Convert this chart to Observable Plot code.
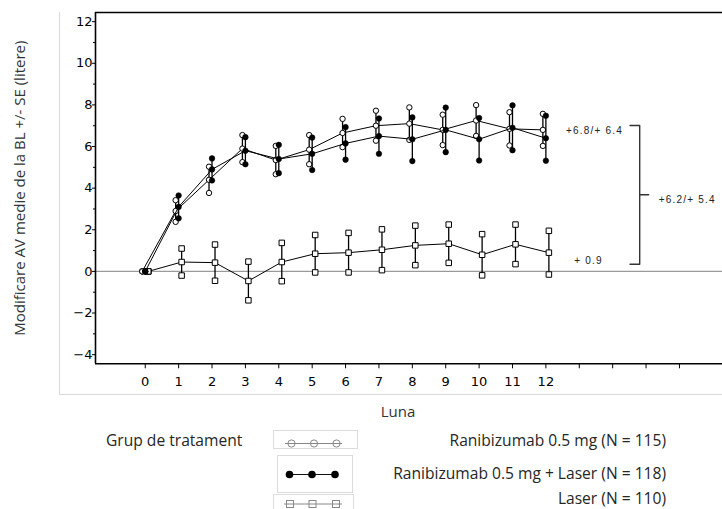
<!DOCTYPE html>
<html><head><meta charset="utf-8">
<script src="https://cdn.jsdelivr.net/npm/d3@7"></script>
<script src="https://cdn.jsdelivr.net/npm/@observablehq/plot@0.6"></script>
<style>
body{margin:0;background:#fff;overflow:hidden}
#wrap{position:relative;width:722px;height:509px;overflow:hidden;font-family:"Open Sans",sans-serif;color:#262626;background:#fff}
#chart{position:absolute;left:0;top:0}
.t{position:absolute;white-space:nowrap;font-size:15.6px;line-height:1;transform:translateY(-50%)}
.box{position:absolute;border:1px solid #dcdcdc;box-sizing:border-box}
.gl{position:absolute;background:#d9d9d9}
</style></head><body>
<div id="wrap">
  <div class="gl" style="left:59px;top:12px;width:1px;height:382px"></div>
  <div class="gl" style="left:59px;top:394px;width:663px;height:1px"></div>
  <div id="chart"></div>
  <div class="box" style="left:273px;top:430px;width:85px;height:19px"></div>
  <div class="box" style="left:277px;top:455px;width:76px;height:38px"></div>
  <div class="box" style="left:273px;top:494px;width:81px;height:20px"></div>
  <svg id="lg" width="722" height="509" style="position:absolute;left:0;top:0"></svg>
  <div class="t" id="grp" style="left:106px;top:441px"></div>
  <div class="t lt" style="right:56px;top:441px"></div>
  <div class="t lt" style="right:56px;top:474px"></div>
  <div class="t lt" style="right:56px;top:499px"></div>
</div>
<script>
// ---- data ----
const months = [0,1,2,3,4,5,6,7,8,9,10,11,12];
const ranibMean = [0, 2.9, 4.4, 5.9, 5.35, 5.85, 6.65, 7.0, 7.1, 6.8, 7.25, 6.85, 6.8];
const ranibSE   = [0, 0.52, 0.63, 0.65, 0.68, 0.7, 0.68, 0.72, 0.78, 0.73, 0.74, 0.8, 0.77];
const comboMean = [0, 3.1, 4.9, 5.8, 5.4, 5.65, 6.15, 6.5, 6.35, 6.8, 6.35, 6.9, 6.4];
const comboSE   = [0, 0.55, 0.53, 0.65, 0.68, 0.78, 0.78, 0.85, 1.05, 1.07, 1.02, 1.08, 1.08];
const laserMean = [0, 0.45, 0.42, -0.46, 0.45, 0.85, 0.9, 1.04, 1.25, 1.33, 0.8, 1.3, 0.9];
const laserSE   = [0, 0.65, 0.87, 0.93, 0.92, 0.9, 0.95, 0.98, 0.95, 0.92, 0.99, 0.95, 1.05];
const seriesNames = ["Ranibizumab 0.5 mg (N = 115)", "Ranibizumab 0.5 mg + Laser (N = 118)", "Laser (N = 110)"];
const xTickValues = [0,1,2,3,4,5,6,7,8,9,10,11,12,13,14,15,16];
const xTickLabels = ["0","1","2","3","4","5","6","7","8","9","10","11","12","","","",""];
const yTickValues = [-4,-2,0,2,4,6,8,10,12];
const yMinorTicks = [-3,-1,1,3,5,7,9,11];
const annotText = ["+6.8/+ 6.4", "+6.2/+ 5.4", "+ 0.9"];
const annotX = [12.6, 15.38, 12.85];
const annotY = [6.74, 3.44, 0.53];
const bracketX = [14.52, 14.81, 14.81, 14.52];
const bracketY = [7.01, 7.01, 0.34, 0.34];
const bracketTickX = [14.81, 15.08];
const bracketTickY = [3.68, 3.68];
const xTitle = "Luna";
const yTitle = "Modificare AV medie de la BL +/- SE (litere)";
const legendTitle = "Grup de tratament";

const xDomain = [-1.49, 17.29];
const yDomain = [-4.44, 12.44];

function rowsOf(mean, se) {
  return months.map((m, i) => ({month: m, mean: mean[i], lo: mean[i] - se[i], hi: mean[i] + se[i]}));
}
function pointsOf(rows) {
  return rows.flatMap(d => [{month: d.month, v: d.mean}, {month: d.month, v: d.lo}, {month: d.month, v: d.hi}]);
}
const ranib = rowsOf(ranibMean, ranibSE);
const combo = rowsOf(comboMean, comboSE);
const laser = rowsOf(laserMean, laserSE);

function seriesMarks(rows, dx, dotOpts) {
  return [
    Plot.line(rows, {x: "month", y: "mean", stroke: "#000", strokeWidth: 1, dx}),
    Plot.ruleX(rows, {x: "month", y1: "lo", y2: "hi", stroke: "#000", strokeWidth: 1.3, dx}),
    Plot.dot(pointsOf(rows), {x: "month", y: "v", dx, ...dotOpts})
  ];
}

const chart = Plot.plot({
  width: 722, height: 420,
  marginLeft: 95, marginRight: 0, marginTop: 12, marginBottom: 56.7,
  x: {domain: xDomain},
  y: {domain: yDomain},
  style: {fontFamily: "DejaVu Sans", fontSize: "13px", color: "#000", background: "transparent", overflow: "visible"},
  marks: [
    Plot.ruleY([0], {stroke: "#9a9a9a", strokeWidth: 1.2}),
    ...seriesMarks(laser, 3, {symbol: "square", r: 3.1, fill: "#fff", stroke: "#000", strokeWidth: 1}),
    ...seriesMarks(ranib, -3, {symbol: "circle", r: 2.7, fill: "#fff", stroke: "#000", strokeWidth: 1}),
    ...seriesMarks(combo, 0, {symbol: "circle", r: 2.8, fill: "#000", stroke: "#000", strokeWidth: 0.5}),
    Plot.ruleX([xDomain[0]], {stroke: "#000", strokeWidth: 1.6}),
    Plot.ruleY([yDomain[1]], {stroke: "#000", strokeWidth: 1.6}),
    Plot.ruleY([yDomain[0]], {stroke: "#000", strokeWidth: 1.6}),
    Plot.axisX({ticks: xTickValues, tickSize: 5, tickPadding: 8, tickFormat: d => xTickLabels[xTickValues.indexOf(d)], label: null, fill: "#000"}),
    Plot.axisY({ticks: yTickValues, tickSize: 3, tickPadding: 0, label: null, fill: "#000"}),
    Plot.axisY({ticks: yMinorTicks, tickSize: 2, tickFormat: () => "", label: null}),
    Plot.text(annotText, {x: (d, i) => annotX[i], y: (d, i) => annotY[i], text: d => d, textAnchor: "start", fontFamily: "Liberation Sans", fontSize: 10, fill: "#222"}),
    Plot.line(bracketX.map((x, i) => ({x, y: bracketY[i]})), {x: "x", y: "y", stroke: "#333", strokeWidth: 1.4}),
    Plot.line(bracketTickX.map((x, i) => ({x, y: bracketTickY[i]})), {x: "x", y: "y", stroke: "#333", strokeWidth: 1.4}),
    Plot.text([yTitle], {frameAnchor: "left", dx: -75, rotate: -90, textAnchor: "middle", lineAnchor: "middle", fontFamily: "Open Sans", fontSize: 15, fill: "#333"}),
    Plot.text([xTitle], {frameAnchor: "bottom", dx: -11, dy: 48.4, textAnchor: "middle", lineAnchor: "middle", fontFamily: "Open Sans", fontSize: 15, fill: "#333"})
  ]
});
chart.querySelectorAll("text").forEach(t => {
  if (t.textContent.startsWith("+")) t.setAttribute("letter-spacing", "1.2");
});
document.getElementById("chart").appendChild(chart);

// ---- legend ----
document.getElementById("grp").textContent = legendTitle;
document.querySelectorAll(".lt").forEach((el, i) => el.textContent = seriesNames[i]);
const lg = d3.select("#lg");
// open circles
lg.append("line").attr("x1", 285).attr("x2", 342).attr("y1", 443.5).attr("y2", 443.5).attr("stroke", "#888").attr("stroke-width", 1);
[291.5, 314, 336.5].forEach(x => lg.append("circle").attr("cx", x).attr("cy", 443.5).attr("r", 3.6).attr("fill", "none").attr("stroke", "#888").attr("stroke-width", 1));
// filled circles
lg.append("line").attr("x1", 289).attr("x2", 335).attr("y1", 474.5).attr("y2", 474.5).attr("stroke", "#111").attr("stroke-width", 1.2);
[289.5, 312, 335].forEach(x => lg.append("circle").attr("cx", x).attr("cy", 474.5).attr("r", 3.8).attr("fill", "#000"));
// squares
lg.append("line").attr("x1", 284).attr("x2", 342).attr("y1", 504).attr("y2", 504).attr("stroke", "#888").attr("stroke-width", 1);
[290, 312.5, 336].forEach(x => lg.append("rect").attr("x", x - 3.5).attr("y", 500.5).attr("width", 7).attr("height", 7).attr("fill", "none").attr("stroke", "#888").attr("stroke-width", 1));
</script>
</body></html>
